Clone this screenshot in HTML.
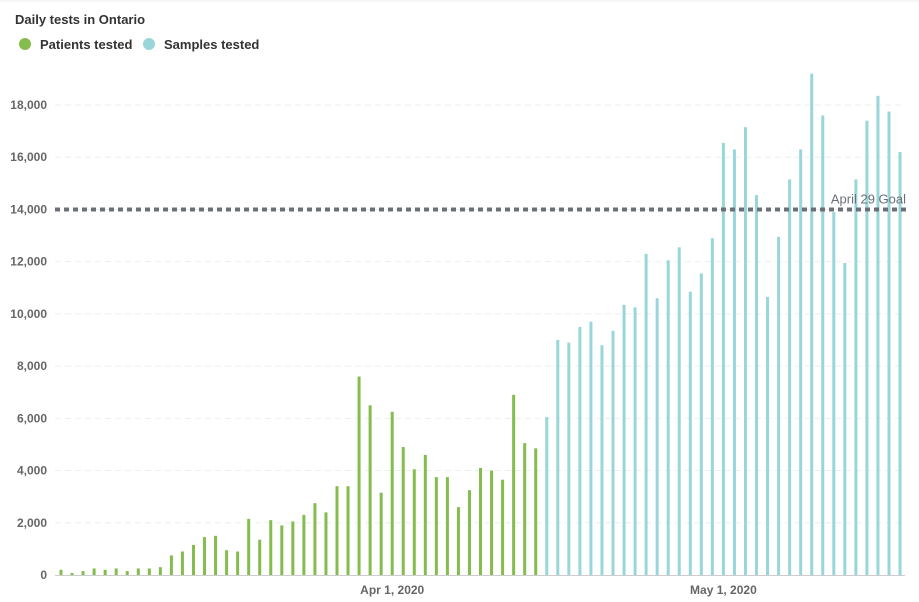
<!DOCTYPE html>
<html><head><meta charset="utf-8"><style>
body{margin:0;background:#fff;font-family:"Liberation Sans",sans-serif;}
svg{display:block}
</style></head><body>
<svg id="chart" width="919" height="602">
<line x1="0" y1="1" x2="919" y2="1" stroke="#eee"/>
<text x="15" y="24" font-size="13" font-weight="bold" fill="#333">Daily tests in Ontario</text>
<g><circle cx="25" cy="44" r="6" fill="#84bc4e"/><text x="40" y="49" font-size="13" font-weight="bold" fill="#333">Patients tested</text></g>
<g><circle cx="149" cy="44" r="6" fill="#99d6d9"/><text x="164" y="49" font-size="13" font-weight="bold" fill="#333">Samples tested</text></g>
<g id="grid"></g><g id="bars"></g><g id="ann"></g>
</svg>
<script>
const patients=[200,80,150,250,200,250,150,250,250,300,750,900,1150,1450,1500,950,900,2150,1350,2100,1900,2050,2300,2750,2400,3400,3400,7600,6500,3150,6250,4900,4050,4600,3750,3750,2600,3250,4100,4000,3650,6900,5050,4850];
const samples=[6050,9000,8900,9500,9700,8800,9350,10350,10250,12300,10600,12050,12550,10850,11550,12900,16550,16300,17150,14550,10650,12950,15150,16300,19200,17600,13900,11950,15150,17400,18350,17750,16200];
const yTicks=[0,2000,4000,6000,8000,10000,12000,14000,16000,18000];
const xLabels=[{i:30,t:"Apr 1, 2020"},{i:60,t:"May 1, 2020"}];
const goal=14000;
const NS="http://www.w3.org/2000/svg";
const y=v=>575-v*(470/18000);
const x=i=>61+i*11.04;
function mk(tag,attrs,parent){const e=document.createElementNS(NS,tag);for(const k in attrs)e.setAttribute(k,attrs[k]);parent.appendChild(e);return e;}
const grid=document.getElementById('grid'),bars=document.getElementById('bars'),ann=document.getElementById('ann');
yTicks.forEach(v=>{
 if(v>0){const l=mk('line',{x1:55,x2:905,y1:y(v),y2:y(v),stroke:'#eee','stroke-dasharray':'6 4'},grid);
 
 }
 const t=mk('text',{x:47,y:y(v)+4,'text-anchor':'end','font-size':12,'font-weight':'bold',fill:'#666'},grid);
 t.textContent=v.toLocaleString('en-US');
 
 
});
const ax=mk('line',{x1:55,x2:905,y1:575.5,y2:575.5,stroke:'#ccc'},grid);


xLabels.forEach(d=>{
 const t=mk('text',{x:x(d.i),y:594,'text-anchor':'middle','font-size':12,'font-weight':'bold',fill:'#666'},grid);
 t.textContent=d.t;
 
 
});
patients.forEach((v,i)=>{
 const r=mk('rect',{x:x(i)-1.5,y:y(v),width:3,height:575-y(v),fill:'#84bc4e'},bars);
 
 
});
samples.forEach((v,j)=>{
 const i=patients.length+j;
 const r=mk('rect',{x:x(i)-1.5,y:y(v),width:3,height:575-y(v),fill:'#99d6d9'},bars);
 
 
});
const gl=mk('line',{x1:55,x2:907,y1:y(goal),y2:y(goal),stroke:'#6b7078','stroke-width':4,'stroke-dasharray':'5 4'},ann);


const gt=mk('text',{x:906,y:y(goal)-6,'text-anchor':'end','font-size':13,fill:'#6b7078'},ann);
gt.textContent='April 29 Goal';


</script>
</body></html>
